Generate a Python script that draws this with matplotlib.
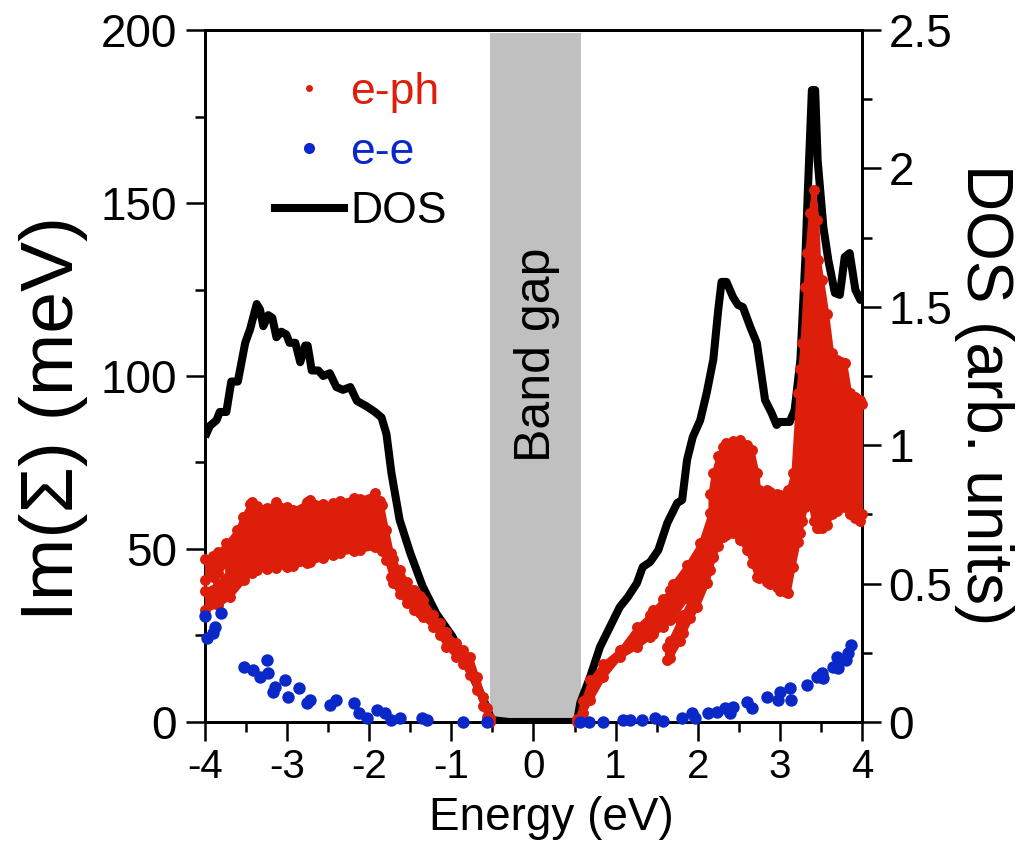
import matplotlib
matplotlib.use("Agg")
import matplotlib.pyplot as plt
from matplotlib.lines import Line2D
from matplotlib.ticker import MultipleLocator, FuncFormatter

plt.rcParams['font.family'] = ['Liberation Sans', 'DejaVu Sans']
plt.rcParams['axes.unicode_minus'] = False

RED = '#dc1e0a'
BLUE = '#0a28c8'
GRAY = '#c0c0c0'

# Band gap limits (eV)
gap_lo, gap_hi = -0.53, 0.575

# Density of states (arb. units)
dos_E = [-4.00, -3.94, -3.86, -3.82, -3.74, -3.68, -3.60, -3.51, -3.45, -3.37,
         -3.33, -3.29, -3.23, -3.18, -3.13, -3.07, -3.01, -2.97, -2.90, -2.84,
         -2.78, -2.75, -2.70, -2.62, -2.56, -2.48, -2.40, -2.32, -2.23, -2.15,
         -2.03, -1.93, -1.85, -1.79, -1.73, -1.63, -1.50, -1.35, -1.18, -0.99,
         -0.86, -0.74, -0.62, -0.51, -0.30, 0.00, 0.30, 0.53, 0.57, 0.69,
         0.81, 0.93, 1.05, 1.15, 1.26, 1.33, 1.42, 1.52, 1.63, 1.75,
         1.81, 1.87, 1.94, 2.03, 2.11, 2.19, 2.25, 2.29, 2.35, 2.43,
         2.49, 2.55, 2.64, 2.72, 2.78, 2.82, 2.90, 2.96, 3.00, 3.12,
         3.18, 3.25, 3.31, 3.34, 3.39, 3.43, 3.46, 3.53, 3.59, 3.67,
         3.73, 3.79, 3.85, 3.92, 3.98, 4.00]
dos = [1.03, 1.07, 1.09, 1.12, 1.12, 1.23, 1.23, 1.37, 1.42, 1.51,
       1.49, 1.43, 1.47, 1.46, 1.39, 1.41, 1.40, 1.37, 1.37, 1.30,
       1.36, 1.36, 1.27, 1.27, 1.25, 1.26, 1.21, 1.20, 1.21, 1.16,
       1.14, 1.12, 1.10, 1.04, 0.90, 0.73, 0.61, 0.49, 0.39, 0.31,
       0.235, 0.163, 0.09, 0.007, 0.0, 0.0, 0.0, 0.0, 0.069, 0.163,
       0.271, 0.343, 0.415, 0.452, 0.502, 0.560, 0.578, 0.621, 0.719, 0.791,
       0.802, 0.947, 1.03, 1.09, 1.19, 1.31, 1.49, 1.59, 1.59, 1.535,
       1.507, 1.499, 1.427, 1.369, 1.246, 1.163, 1.116, 1.073, 1.084, 1.084,
       1.127, 1.308, 1.669, 1.911, 2.283, 2.283, 2.030, 1.788, 1.669, 1.550,
       1.543, 1.680, 1.694, 1.561, 1.525, 1.525]

# Electron-electron scattering rate Im(Sigma) (meV)
ee_E = [-4.00, -3.98, -3.90, -3.88, -3.80, -3.53, -3.41, -3.33, -3.25, -3.23,
        -3.17, -3.15, -3.03, -2.99, -2.86, -2.76, -2.72, -2.48, -2.40, -2.19,
        -2.13, -2.03, -1.91, -1.81, -1.73, -1.63, -1.36, -1.30, -0.86, -0.57,
        0.57, 0.67, 0.85, 1.09, 1.18, 1.32, 1.48, 1.58, 1.81, 1.93,
        1.97, 2.13, 2.23, 2.33, 2.39, 2.43, 2.60, 2.66, 2.84, 2.98,
        3.00, 3.12, 3.14, 3.33, 3.45, 3.51, 3.53, 3.65, 3.69, 3.71,
        3.81, 3.83, 3.87]
ee = [30.7, 24.2, 25.6, 27.5, 31.6, 16.0, 15.0, 13.1, 17.9, 14.1,
      8.8, 10.2, 12.1, 7.3, 9.7, 5.4, 6.4, 4.9, 6.4, 5.4,
      2.5, 1.1, 3.5, 2.5, 0.6, 1.1, 1.1, 0.6, 0.1, 0.1,
      0.1, 0.1, 0.1, 0.6, 0.6, 0.6, 1.1, 0.4, 1.1, 2.7,
      1.1, 2.5, 3.0, 4.0, 2.5, 4.4, 5.9, 4.0, 7.3, 6.4,
      8.8, 9.7, 6.4, 10.7, 13.1, 14.1, 12.6, 16.0, 18.9, 15.5,
      17.9, 19.9, 22.3]

# Electron-phonon scattering rate: spread of Im(Sigma) (meV) per energy window,
# given as lower / upper bounds for each branch of the point cloud.
eph_a_E = [-4.00, -3.90, -3.84, -3.74, -3.61, -3.54, -3.45]
eph_a_lo = [41.0, 42.0, 43.0, 46.0, 50.0, 53.0, 58.0]
eph_a_hi = [47.0, 48.0, 49.0, 51.6, 55.5, 59.3, 63.0]

eph_b_E = [-4.00, -3.84, -3.70, -3.53, -3.43, -3.37, -3.25, -3.13, -3.00, -2.93,
           -2.76, -2.72, -2.56, -2.44, -2.36, -2.19, -2.11, -1.93, -1.87, -1.85,
           -1.79, -1.73, -1.71, -1.63, -1.54, -1.46, -1.38, -1.34, -1.22, -1.14,
           -1.06, -0.94, -0.86, -0.77, -0.69, -0.61, -0.57, -0.53]
eph_b_lo = [32.4, 33.8, 36.2, 41.0, 43.0, 43.9, 44.2, 44.6, 44.9, 45.2,
            45.9, 46.2, 47.3, 48.3, 48.8, 49.5, 49.7, 50.5, 50.7, 49.5,
            46.8, 42.0, 40.1, 37.0, 34.3, 32.5, 31.4, 30.2, 27.5, 25.0,
            21.8, 18.8, 16.9, 13.5, 9.2, 4.5, 1.5, 0.0]
eph_b_hi = [38.0, 40.0, 44.0, 59.3, 63.5, 62.5, 61.8, 63.7, 62.0, 61.3,
            63.5, 64.2, 63.0, 63.2, 63.8, 64.7, 64.5, 66.1, 64.0, 62.7,
            55.5, 48.8, 47.0, 43.9, 40.5, 38.2, 36.5, 35.3, 31.0, 28.5,
            26.0, 22.7, 20.8, 18.9, 13.1, 7.3, 4.0, 1.1]

eph_c_E = [0.53, 0.60, 0.69, 0.85, 1.05, 1.26, 1.42, 1.46, 1.58, 1.66,
           1.70, 1.87, 2.03, 2.15]
eph_c_lo = [0.0, 2.5, 6.4, 13.1, 18.9, 21.8, 24.7, 25.5, 27.5, 29.5,
            30.4, 36.0, 42.0, 50.0]
eph_c_hi = [1.0, 6.0, 12.1, 16.9, 20.8, 27.5, 31.0, 32.4, 35.5, 38.2,
            40.0, 45.5, 51.6, 60.3]

eph_d_E = [1.62, 1.66, 1.78, 1.82, 1.91, 1.99, 2.11, 2.19]
eph_d_lo = [18.0, 18.5, 23.5, 25.6, 30.0, 33.3, 40.1, 47.8]
eph_d_hi = [21.8, 23.5, 29.5, 31.0, 35.3, 39.0, 46.0, 52.0]

eph_e_E = [2.15, 2.19, 2.25, 2.31, 2.35, 2.43, 2.51, 2.60, 2.66, 2.72,
           2.74, 2.84, 2.88, 2.96, 3.00, 3.08, 3.10, 3.16, 3.22, 3.245,
           3.27, 3.31, 3.33, 3.37, 3.41, 3.45, 3.47, 3.51, 3.57, 3.63,
           3.69, 3.75, 3.79, 3.85, 3.91, 3.97, 4.00]
eph_e_lo = [44.0, 47.8, 51.0, 53.6, 54.0, 54.5, 52.5, 49.7, 46.0, 42.0,
            41.5, 40.5, 40.0, 39.0, 38.0, 37.5, 37.2, 44.9, 52.0, 54.5,
            58.0, 62.0, 64.2, 63.0, 58.0, 56.0, 56.0, 56.0, 57.0, 60.0,
            61.0, 62.0, 62.0, 60.0, 59.0, 58.0, 60.0]
eph_e_hi = [66.0, 72.0, 77.0, 79.5, 80.6, 81.3, 81.5, 80.0, 78.6, 72.0,
            67.0, 67.0, 66.5, 66.0, 65.5, 65.0, 67.0, 72.0, 95.0, 102.0,
            109.5, 125.7, 135.5, 147.0, 153.8, 145.0, 133.5, 127.7, 118.0, 106.6,
            104.6, 104.0, 103.7, 95.0, 94.0, 93.0, 92.0]

eph_branches = [(eph_a_E, eph_a_lo, eph_a_hi),
                (eph_b_E, eph_b_lo, eph_b_hi),
                (eph_c_E, eph_c_lo, eph_c_hi),
                (eph_d_E, eph_d_lo, eph_d_hi),
                (eph_e_E, eph_e_lo, eph_e_hi)]

fig = plt.figure(figsize=(10.28, 8.46), dpi=100)
ax = fig.add_axes([0.1994, 0.1466, 0.6391, 0.8179])
ax_dos = ax.twinx()
ax.set_zorder(ax_dos.get_zorder() + 1)
ax.patch.set_visible(False)

# Band gap shading and DOS on the rear axes
ax_dos.axvspan(gap_lo, gap_hi, ymin=0, ymax=199 / 200, color=GRAY, lw=0, zorder=0)
ax_dos.plot(dos_E, dos, color='black', lw=5.8, solid_joinstyle='round',
            solid_capstyle='butt', zorder=2)
ax_dos.set_ylim(0, 2.5)

# e-ph point cloud
for e, lo, hi in eph_branches:
    ax.fill_between(e, lo, hi, color=RED, lw=3.0, edgecolor=RED,
                    joinstyle='round', zorder=3)
    ax.scatter(e + e, lo + hi, s=62, color=RED, lw=0, zorder=3, clip_on=False)

# e-e points
ax.scatter(ee_E, ee, s=80, color=BLUE, lw=0, zorder=4, clip_on=False)

ax.text(0.04, 106, 'Band gap', rotation=90, ha='center', va='center',
        fontsize=36, color='black', zorder=5)

ax.set_xlim(-4, 4)
ax.set_ylim(0, 200)

ax.xaxis.set_major_locator(MultipleLocator(1))
ax.xaxis.set_minor_locator(MultipleLocator(0.5))
ax.yaxis.set_major_locator(MultipleLocator(50))
ax.yaxis.set_minor_locator(MultipleLocator(25))
ax_dos.yaxis.set_major_locator(MultipleLocator(0.5))
ax_dos.yaxis.set_minor_locator(MultipleLocator(0.25))
ax_dos.yaxis.set_major_formatter(FuncFormatter(lambda v, p: f'{v:g}'))

for a in (ax, ax_dos):
    for s in a.spines.values():
        s.set_linewidth(2.0)
ax.tick_params(axis='x', which='major', direction='out', length=14, width=1.8,
               labelsize=29, pad=5, top=False)
ax.tick_params(axis='x', which='minor', direction='out', length=7, width=1.8, top=False)
ax.tick_params(axis='y', which='major', direction='out', length=14, width=1.8,
               labelsize=33, pad=6, right=False)
ax.tick_params(axis='y', which='minor', direction='out', length=7, width=1.8, right=False)
ax_dos.tick_params(axis='y', which='major', direction='out', length=14, width=1.8,
                   labelsize=33, pad=5)
ax_dos.tick_params(axis='y', which='minor', direction='out', length=7, width=1.8)

ax.set_xlabel('Energy (eV)', fontsize=33, ha='center', va='center')
ax.xaxis.set_label_coords(0.527, -0.139)
ax.set_ylabel('Im(Σ) (meV)', fontsize=54, ha='center', va='center')
ax.yaxis.set_label_coords(-0.230, 0.439)
ax_dos.set_ylabel('DOS (arb. units)', fontsize=46, rotation=270,
                  ha='center', va='center')
ax_dos.yaxis.set_label_coords(1.186, 0.4725)

handles = [Line2D([], [], ls='none', marker='o', ms=5, color=RED, mew=0),
           Line2D([], [], ls='none', marker='o', ms=8, color=BLUE, mew=0),
           Line2D([], [], color='black', lw=5.8)]
leg = ax.legend(handles, ['e-ph', 'e-e', 'DOS'], loc='upper left',
                bbox_to_anchor=(275 / 1028, 1 - 72 / 846),
                bbox_transform=fig.transFigure, frameon=False, fontsize=32,
                handlelength=1.55, handletextpad=0.15, labelspacing=0.42,
                borderpad=0, borderaxespad=0)
for t, c in zip(leg.get_texts(), [RED, BLUE, 'black']):
    t.set_color(c)

fig.savefig('out.png', dpi=100)
